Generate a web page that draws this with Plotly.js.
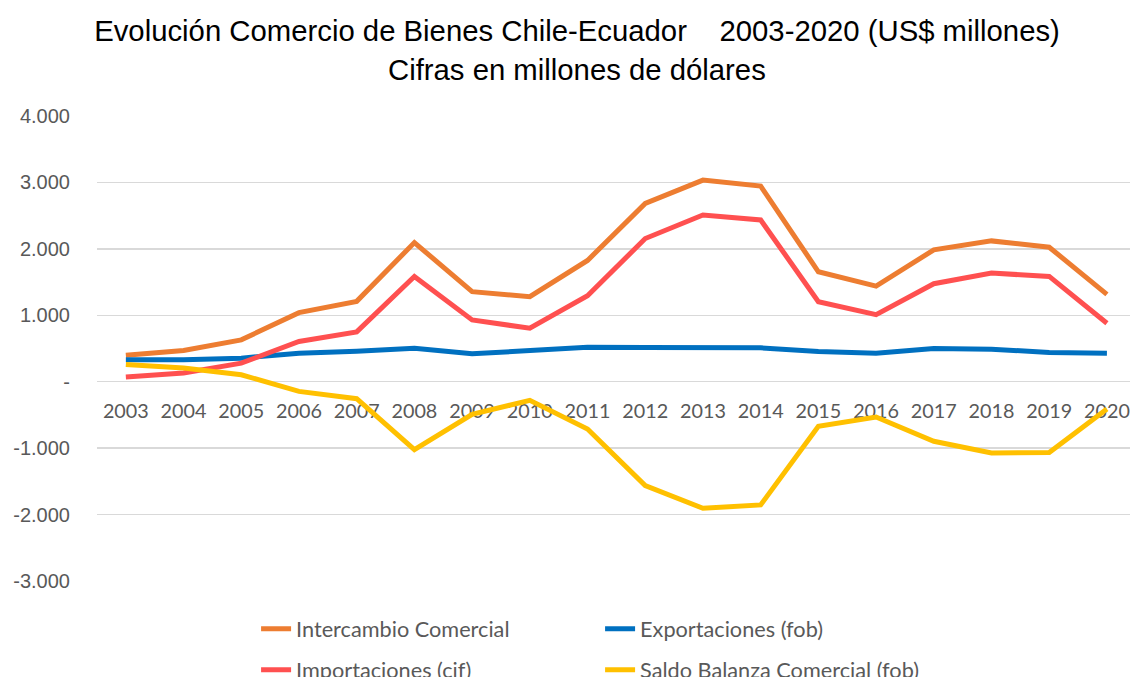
<!DOCTYPE html>
<html>
<head>
<meta charset="utf-8">
<script src="https://cdn.plot.ly/plotly-3.0.1.min.js"></script>
<style>html,body{margin:0;padding:0;background:#fff;}#chart{width:1130px;height:677px;}</style>
</head>
<body>
<div id="chart"></div>
<script>
const years = ["2003","2004","2005","2006","2007","2008","2009","2010","2011","2012","2013","2014","2015","2016","2017","2018","2019","2020"];
const intercambio = [400, 470, 630, 1040, 1210, 2095, 1355, 1280, 1825, 2685, 3035, 2945, 1655, 1440, 1985, 2120, 2025, 1315];
const exportaciones = [330, 330, 355, 430, 460, 505, 420, 470, 520, 515, 515, 510, 455, 430, 500, 490, 440, 430];
const importaciones = [70, 130, 280, 605, 750, 1585, 930, 805, 1295, 2155, 2510, 2435, 1205, 1010, 1475, 1635, 1585, 880];
const saldo = [258, 205, 105, -146, -256, -1023, -490, -281, -712, -1564, -1905, -1855, -672, -531, -897, -1073, -1065, -410];
const yTickVals = [4000, 3000, 2000, 1000, 0, -1000, -2000, -3000];
const yTickText = ["4.000", "3.000", "2.000", "1.000", "-", "-1.000", "-2.000", "-3.000"];
const seriesNames = ["Intercambio Comercial", "Exportaciones (fob)", "Importaciones (cif)", "Saldo Balanza Comercial (fob)"];
const colors = ["#ED7D31", "#0070C0", "#FF5050", "#FFC000"];

const seriesData = [intercambio, exportaciones, importaciones, saldo];
const legendFor = ["legend", "legend", "legend2", "legend2"];
const traces = seriesData.map((vals, i) => ({
  type: "scatter",
  mode: "lines",
  x: years,
  y: vals,
  name: seriesNames[i],
  legend: legendFor[i],
  line: {color: colors[i], width: 5},
  hoverinfo: "x+y+name"
}));

const legendFont = {family: "Lato, sans-serif", size: 21.7, color: "#595959"};
const titleFont = {family: "Liberation Sans, Arial, sans-serif", size: 29.3, color: "#000000"};
const layout = {
  width: 1130,
  height: 677,
  paper_bgcolor: "#ffffff",
  plot_bgcolor: "#ffffff",
  margin: {l: 97, r: 0, t: 116, b: 96, autoexpand: false},
  title: {
    text: "Evolución Comercio de Bienes Chile-Ecuador\u00a0\u00a0\u00a0 2003-2020 (US$ millones)",
    font: titleFont,
    xref: "container", x: 577/1130, xanchor: "center",
    yref: "container", y: 1 - 31/677, yanchor: "middle"
  },
  annotations: [{
    text: "Cifras en millones de dólares",
    font: titleFont,
    xref: "paper", x: (577-97)/1033, xanchor: "center",
    yref: "paper", y: (581-69)/465, yanchor: "middle",
    showarrow: false
  }],
  xaxis: {
    type: "category",
    range: [-0.5, 17.4],
    anchor: "free",
    position: 3/7,
    showgrid: false,
    showline: false,
    zeroline: false,
    ticks: "",
    ticklabelstandoff: 15,
    layer: "below traces",
    tickfont: {family: "Lato, sans-serif", size: 19.8, color: "#595959"},
    fixedrange: true
  },
  yaxis: {
    range: [-3000, 4000],
    tickvals: yTickVals,
    ticktext: yTickText,
    showgrid: true,
    gridcolor: "#D9D9D9",
    gridwidth: 1.5,
    zeroline: true,
    zerolinecolor: "#D9D9D9",
    zerolinewidth: 1.5,
    showline: false,
    ticks: "",
    ticklabelstandoff: 26,
    tickfont: {family: "Liberation Sans, Arial, sans-serif", size: 20, color: "#595959"},
    fixedrange: true
  },
  legend: {
    orientation: "h",
    x: 0.154, xanchor: "left",
    y: -0.0585, yanchor: "top",
    entrywidth: 299, entrywidthmode: "pixels",
    font: legendFont,
    bgcolor: "rgba(0,0,0,0)"
  },
  legend2: {
    orientation: "h",
    x: 0.154, xanchor: "left",
    y: -0.1467, yanchor: "top",
    entrywidth: 299, entrywidthmode: "pixels",
    font: legendFont,
    bgcolor: "rgba(0,0,0,0)"
  },
  showlegend: true
};

Plotly.newPlot("chart", traces, layout, {displayModeBar: false, staticPlot: true});
</script>
</body>
</html>
